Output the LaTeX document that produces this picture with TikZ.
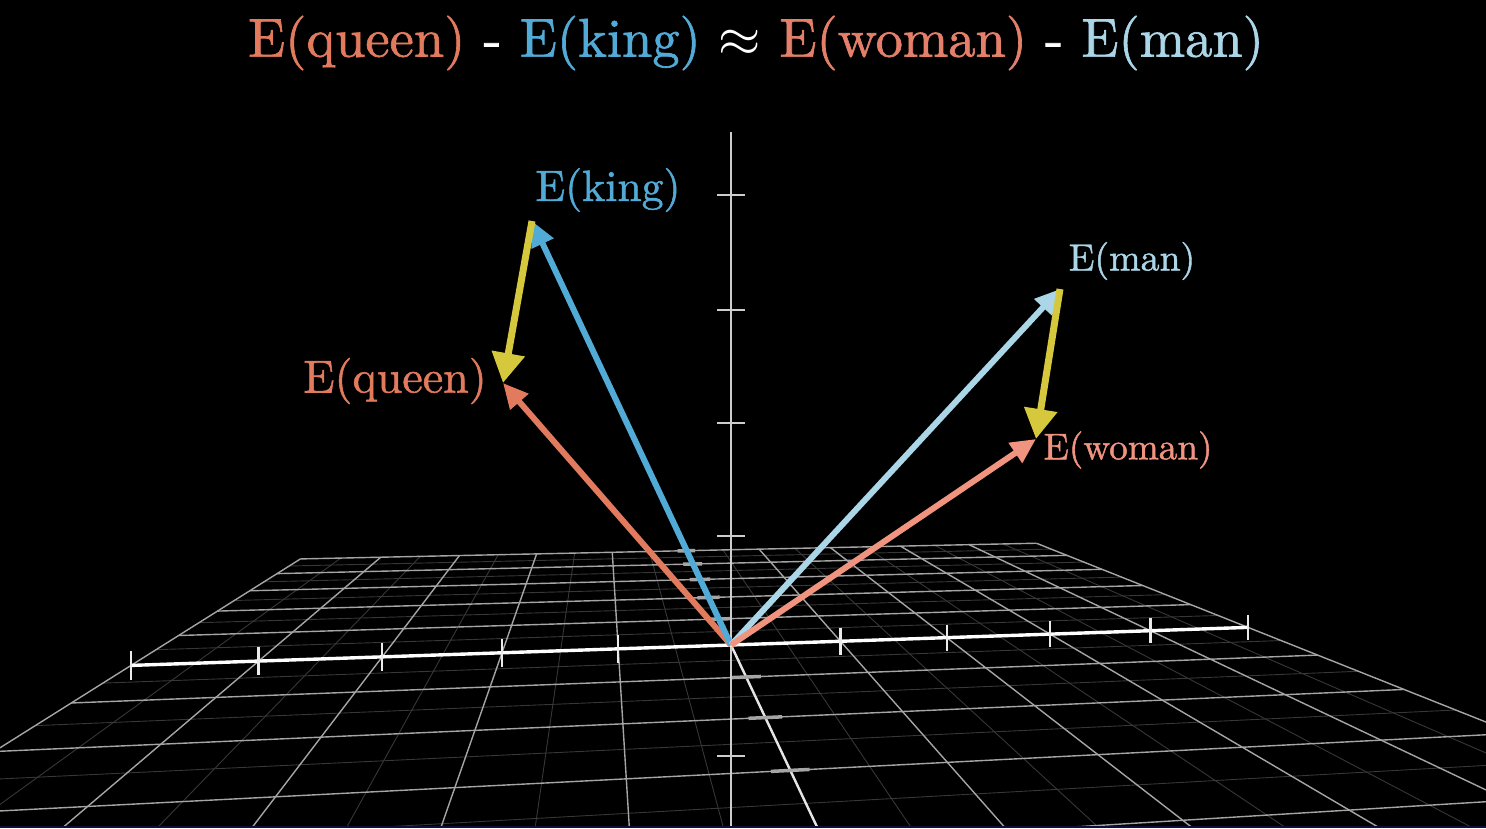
\documentclass[tikz,border=0pt]{standalone}
\usepackage{fontspec}
\usetikzlibrary{arrows.meta}
\newfontfamily\cmten{lmroman10-regular.otf}[FakeBold=1.2]
\definecolor{queenc}{RGB}{226,122,94}
\definecolor{kingc}{RGB}{82,170,214}
\definecolor{manc}{RGB}{170,214,232}
\definecolor{womanc}{RGB}{240,148,128}
\definecolor{twomanc}{RGB}{228,128,106}
\definecolor{yellowc}{RGB}{214,200,60}
\definecolor{gridc}{RGB}{165,165,165}
\definecolor{faintc}{RGB}{55,55,55}
\definecolor{zaxc}{RGB}{205,205,205}
\definecolor{navyc}{RGB}{14,14,60}
% homography of the ground plane: (X,Y) -> screen point
\newcommand\gridpt[3]{%
  \pgfmathsetmacro\gw{0.01486*(#1)+0.1044*(#2)+1}%
  \pgfmathsetmacro\gu{(121.95*(#1)+62.74*(#2)+731)/\gw}%
  \pgfmathsetmacro\gv{(5.8*(#1)+38.63*(#2)+645)/\gw}%
  \coordinate (#3) at (\gu,\gv);}
\begin{document}
\begin{tikzpicture}[x=1pt,y=-1pt,
  faintline/.style={draw=faintc,line width=0.9pt},
  gridline/.style={draw=gridc,line width=1.4pt},
  xaxisline/.style={draw=white,line width=3.4pt},
  xtickline/.style={draw=white!92!black,line width=2.4pt},
  zaxisline/.style={draw=zaxc,line width=2.2pt},
  ztickline/.style={draw=zaxc,line width=2.4pt},
  yaxisline/.style={draw=white!90!black,line width=2.4pt},
  ytickline/.style={draw=gridc,line width=3.5pt},
  vec/.style={line width=6pt,-{Triangle[length=25pt,width=23pt]}},
  diffvec/.style={draw=yellowc,line width=7pt,-{Triangle[length=30pt,width=32pt]}},
  lab/.style={inner sep=0pt,anchor=center}]
\useasboundingbox (0,0) rectangle (1486,828);
\fill[black] (0,0) rectangle (1486,828);
\begin{scope}
\clip (0,0) rectangle (1486,826);
% faint half-unit lines
\foreach \k in {-4.5,-3.5,-2.5,-1.5,-0.5,0.5,1.5,2.5,3.5,4.5} {
  \gridpt{\k}{-5}{a}\gridpt{\k}{5}{b}
  \draw[faintline] (a) -- (b);
  \gridpt{-5}{\k}{c}\gridpt{5}{\k}{d}
  \draw[faintline] (c) -- (d);
}
% unit lines
\foreach \k in {-5,-4,-3,-2,-1,0,1,2,3,4,5} {
  \gridpt{\k}{-5}{a}\gridpt{\k}{5}{b}
  \draw[gridline] (a) -- (b);
  \gridpt{-5}{\k}{c}\gridpt{5}{\k}{d}
  \draw[gridline] (c) -- (d);
}
% y axis
\gridpt{0}{-5}{ya}\gridpt{0}{5}{yb}
\draw[yaxisline] (ya) -- (yb);
\foreach \k in {-5,-4,-3,-2,-1,1,2,3,4,5} {
  \gridpt{-0.12}{\k}{p}\gridpt{0.12}{\k}{q}
  \draw[ytickline] (p) -- (q);
}
% z axis
\coordinate (ztop) at (731,132);
\coordinate (zbot) at (731,830);
\draw[zaxisline] (ztop) -- (zbot);
\foreach \v in {536,423,310,195,756} {
  \draw[ztickline] (717,\v) -- (745,\v);
}
% x axis
\gridpt{-5}{0}{xa}\gridpt{5}{0}{xb}
\draw[xaxisline] (xa) -- (xb);
\foreach \k in {-5,-4,-3,-2,-1,1,2,3,4,5} {
  \gridpt{\k}{0}{t}
  \pgfmathsetmacro\th{13.5/\gw}
  \draw[xtickline] (t) ++(0,-\th) -- ++(0,2*\th);
}
\end{scope}
\fill[navyc] (0,825.5) rectangle (1486,828);
% vectors
\coordinate (O) at (731,645);
\coordinate (king) at (532,221);
\coordinate (queen) at (503,383);
\coordinate (man) at (1060,289);
\coordinate (woman) at (1036,439);
\draw[vec,draw=queenc] (O) -- (queen);
\draw[vec,draw=kingc] (O) -- (king);
\draw[vec,draw=manc] (O) -- (man);
\draw[vec,draw=womanc] (O) -- (woman);
\draw[diffvec] (king) -- (queen);
\draw[diffvec] (man) -- (woman);
% labels
\node[lab,text=kingc,font=\cmten\fontsize{43.7}{50}\selectfont] (lking) at (608,190) {E(king)};
\node[lab,text=queenc,font=\cmten\fontsize{46}{50}\selectfont] (lqueen) at (395,381) {E(queen)};
\node[lab,text=manc,font=\cmten\fontsize{37.8}{44}\selectfont] (lman) at (1132,261) {E(man)};
\node[lab,text=womanc,font=\cmten\fontsize{37.2}{44}\selectfont] (lwoman) at (1128,450) {E(woman)};
\node[lab,text=white,font=\cmten\fontsize{54.5}{60}\selectfont] (title) at (756,43)
  {\textcolor{queenc}{E(queen)} - \textcolor{kingc}{E(king)} \scalebox{2.19}{$\approx$} \textcolor{twomanc}{E(woman)} - \textcolor{manc}{E(man)}};
\end{tikzpicture}
\end{document}
